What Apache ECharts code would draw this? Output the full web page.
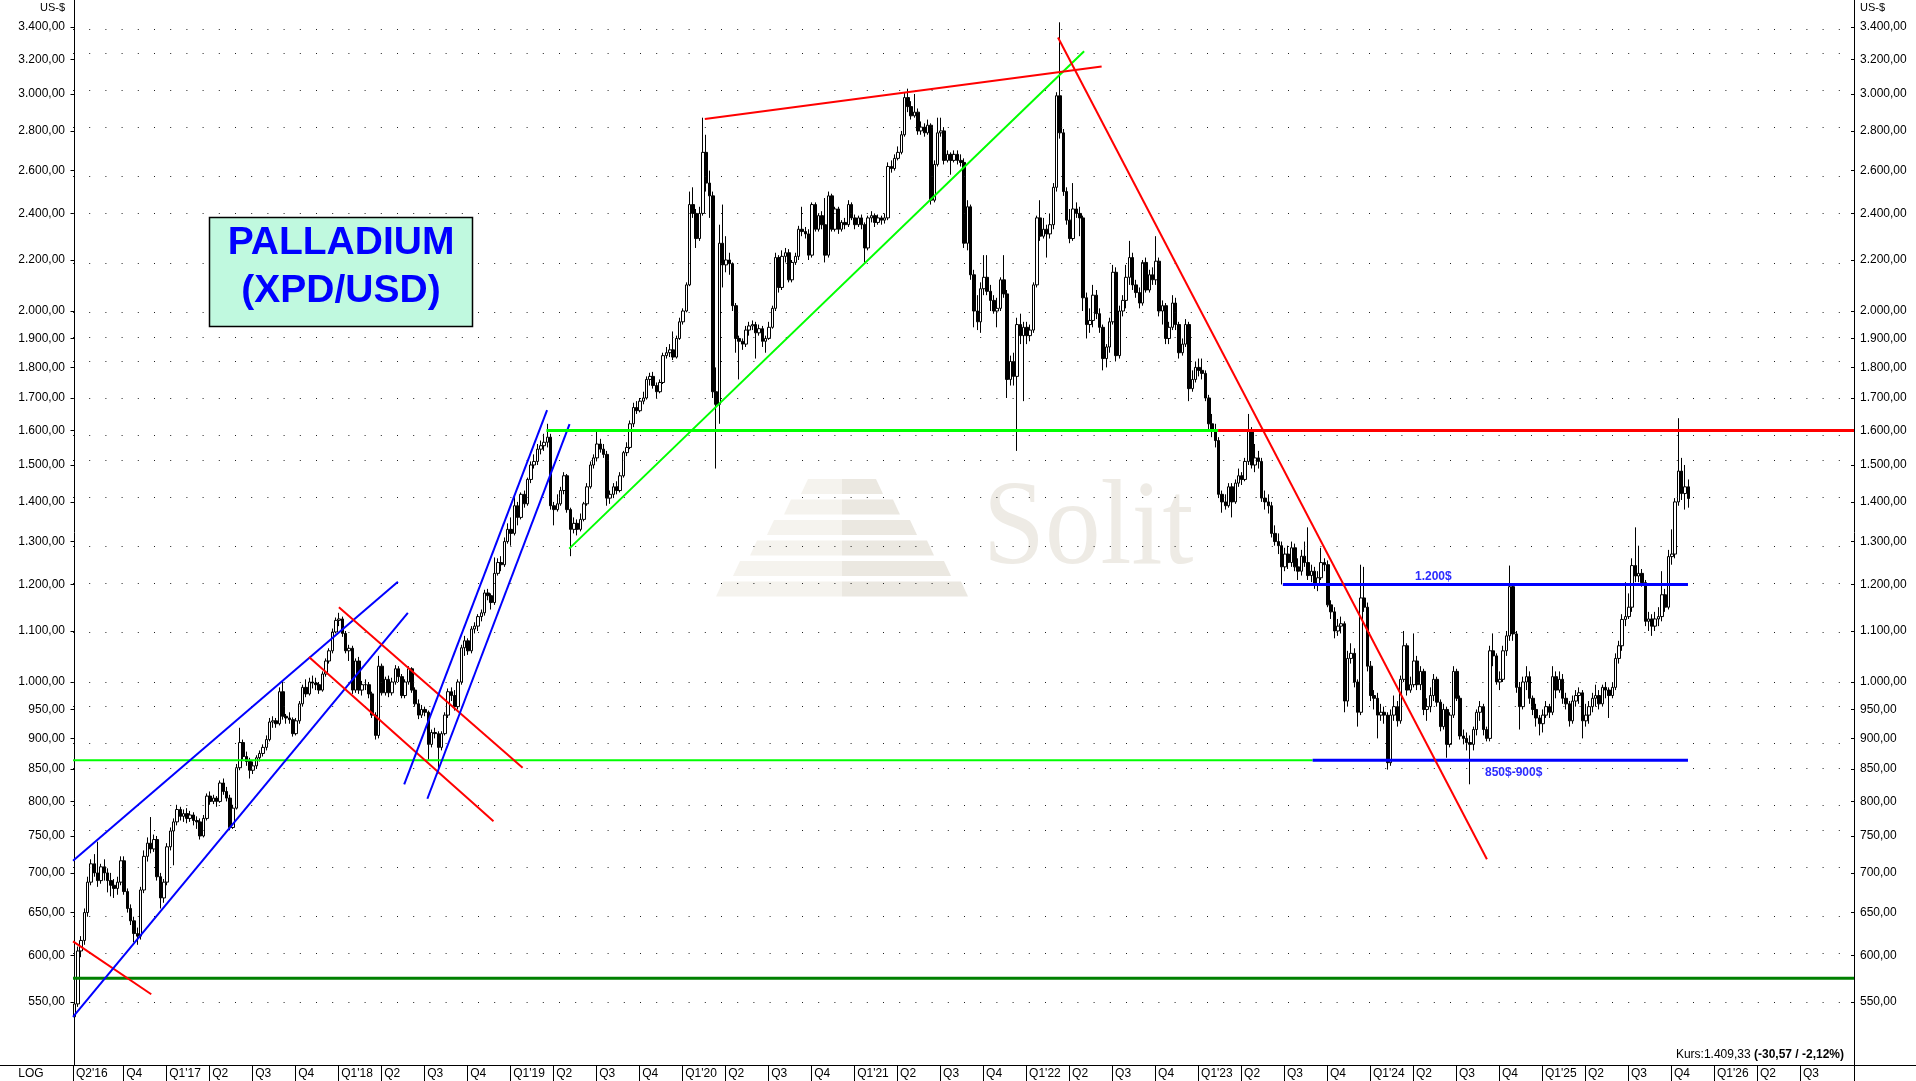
<!DOCTYPE html>
<html><head><meta charset="utf-8">
<script src="https://cdn.jsdelivr.net/npm/echarts@6/dist/echarts.min.js"></script>
<style>html,body{margin:0;padding:0;background:#fff;overflow:hidden}#c{width:1916px;height:1081px}</style>
</head><body><div id="c"></div>
<script>
// ---- weekly candles (index 0 = mid June 2016) ----
const closes=[548,605,617,650,688,712,700,690,708,700,
690,684,680,688,716,676,655,640,625,622,
678,722,740,732,745,695,668,688,735,757,
770,788,778,782,775,780,772,770,750,775,
808,800,805,800,828,815,805,762,790,852,
893,870,862,848,855,868,875,885,898,928,
930,925,982,938,935,932,908,930,960,990,
978,1000,998,995,985,1015,1040,1060,1098,1122,
1125,1095,1060,1065,985,1040,985,995,995,978,
940,905,1030,980,1005,980,1000,1025,1010,975,
1000,1025,985,960,940,950,945,890,910,908,
885,908,940,982,975,955,1000,1066,1080,1060,
1104,1110,1130,1138,1181,1175,1160,1225,1250,1245,
1300,1330,1320,1390,1360,1420,1395,1460,1500,1510,
1545,1555,1565,1580,1390,1380,1395,1430,1470,1380,
1330,1345,1330,1355,1395,1440,1500,1520,1560,1545,
1530,1410,1420,1440,1430,1470,1535,1550,1620,1670,
1660,1690,1700,1760,1770,1740,1720,1750,1840,1850,
1860,1835,1900,1960,2000,2100,2440,2400,2290,2400,
2690,2540,2480,1720,1680,2270,2180,2200,2185,2020,
1900,1890,1880,1930,1945,1950,1920,1935,1890,1900,
1940,2010,2210,2090,2215,2230,2120,2190,2215,2330,
2320,2310,2220,2440,2330,2390,2350,2220,2480,2330,
2420,2330,2360,2350,2440,2380,2350,2380,2350,2250,
2380,2390,2360,2380,2370,2380,2620,2610,2660,2690,
2780,2980,2930,2880,2900,2800,2820,2790,2830,2460,
2630,2790,2800,2650,2680,2650,2680,2650,2640,2270,
2430,2140,2000,1960,2085,2130,2075,2040,2000,2010,
2120,2065,1760,1820,1770,1950,1910,1940,1910,1930,
2100,2380,2300,2330,2310,2350,2520,2990,2790,2500,
2370,2290,2420,2400,2380,2050,1950,1965,2060,1990,
1940,1830,1870,1960,2150,1840,2000,2040,2130,2210,
2100,2070,2030,2190,2080,2140,2120,2195,2000,2020,
1900,1940,2030,1950,1850,1880,1950,1730,1760,1800,
1790,1780,1700,1620,1600,1570,1420,1400,1390,1440,
1400,1450,1470,1460,1510,1600,1500,1520,1510,1410,
1400,1390,1320,1300,1290,1240,1270,1250,1285,1240,
1230,1265,1250,1220,1230,1200,1215,1250,1245,1155,
1140,1100,1110,1115,965,1045,1055,1000,945,1170,
1150,1030,975,970,940,945,940,860,940,955,
930,1005,1070,985,995,1040,995,1020,950,955,
975,1005,963,920,950,890,940,1020,970,904,
900,893,890,915,945,955,915,900,1060,1050,
1000,1005,1060,1090,1195,1094,990,955,1000,1010,
970,950,935,925,940,955,945,1010,985,1005,
970,960,930,965,975,980,930,940,955,970,
975,960,990,985,975,990,1045,1070,1124,1130,
1150,1243,1219,1225,1204,1120,1125,1110,1125,1130,
1177,1150,1264,1270,1400,1483,1422,1440,1409];

const opens=[535,548,605,617,650,688,712,700,690,708,
700,690,684,680,688,716,676,655,640,625,
622,678,722,740,732,745,695,668,688,735,
757,770,788,778,782,775,780,772,770,750,
775,808,800,805,800,828,815,805,762,790,
852,893,870,862,848,855,868,875,885,898,
928,930,925,982,938,935,932,908,930,960,
990,978,1000,998,995,985,1015,1040,1060,1098,
1122,1125,1095,1060,1065,985,1040,985,995,995,
978,940,905,1030,980,1005,980,1000,1025,1010,
975,1000,1025,985,960,940,950,945,890,910,
908,885,908,940,982,975,955,1000,1066,1080,
1060,1104,1110,1130,1138,1181,1175,1160,1225,1250,
1245,1300,1330,1320,1390,1360,1420,1395,1460,1500,
1510,1545,1555,1565,1580,1390,1380,1395,1430,1470,
1380,1330,1345,1330,1355,1395,1440,1500,1520,1560,
1545,1530,1410,1420,1440,1430,1470,1535,1550,1620,
1670,1660,1690,1700,1760,1770,1740,1720,1750,1840,
1850,1860,1835,1900,1960,2000,2100,2440,2400,2290,
2400,2690,2540,2480,1720,1680,2270,2180,2200,2185,
2020,1900,1890,1880,1930,1945,1950,1920,1935,1890,
1900,1940,2010,2210,2090,2215,2230,2120,2190,2215,
2330,2320,2310,2220,2440,2330,2390,2350,2220,2480,
2330,2420,2330,2360,2350,2440,2380,2350,2380,2350,
2250,2380,2390,2360,2380,2370,2380,2620,2610,2660,
2690,2780,2980,2930,2880,2900,2800,2820,2790,2830,
2460,2630,2790,2800,2650,2680,2650,2680,2650,2640,
2270,2430,2140,2000,1960,2085,2130,2075,2040,2000,
2010,2120,2065,1760,1820,1770,1950,1910,1940,1910,
1930,2100,2380,2300,2330,2310,2350,2520,2990,2790,
2500,2370,2290,2420,2400,2380,2050,1950,1965,2060,
1990,1940,1830,1870,1960,2150,1840,2000,2040,2130,
2210,2100,2070,2030,2190,2080,2140,2120,2195,2000,
2020,1900,1940,2030,1950,1850,1880,1950,1730,1760,
1800,1790,1780,1700,1620,1600,1570,1420,1400,1390,
1440,1400,1450,1470,1460,1510,1600,1500,1520,1510,
1410,1400,1390,1320,1300,1290,1240,1270,1250,1285,
1240,1230,1265,1250,1220,1230,1200,1215,1250,1245,
1155,1140,1100,1110,1115,965,1045,1055,1000,945,
1170,1150,1030,975,970,940,945,940,860,940,
955,930,1005,1070,985,995,1040,995,1020,950,
955,975,1005,963,920,950,890,940,1020,970,
904,900,893,890,915,945,955,915,900,1060,
1050,1000,1005,1060,1090,1195,1094,990,955,1000,
1010,970,950,935,925,940,955,945,1010,985,
1005,970,960,930,965,975,980,930,940,955,
970,975,960,990,985,975,990,1045,1070,1124,
1130,1150,1243,1219,1225,1204,1120,1125,1110,1125,
1130,1177,1150,1264,1270,1400,1483,1422,1440];

const lows=[530,545,598,612,645,684,695,682,686,690,
675,670,668,672,684,672,650,635,615,612,
618,674,715,726,728,690,655,662,684,730,
710,765,772,770,768,770,765,760,745,748,
772,795,796,792,798,810,800,758,760,788,
848,865,855,835,842,850,862,870,880,895,
918,918,922,932,925,925,903,905,925,955,
972,975,988,985,978,982,1010,1035,1055,1095,
1110,1088,1055,1040,978,980,978,975,985,970,
935,898,900,975,975,972,975,995,1000,970,
970,995,980,955,933,935,938,865,885,900,
843,880,905,935,965,948,950,995,1050,1052,
1055,1095,1100,1120,1132,1165,1145,1155,1220,1230,
1240,1295,1290,1315,1340,1355,1385,1390,1450,1490,
1500,1530,1540,1550,1380,1340,1375,1390,1420,1372,
1265,1320,1315,1325,1350,1390,1435,1490,1510,1535,
1520,1390,1395,1410,1420,1425,1465,1525,1545,1610,
1650,1655,1680,1695,1740,1730,1700,1715,1745,1830,
1835,1825,1830,1895,1950,1995,2095,2380,2250,2280,
2390,2500,2380,1700,1490,1620,2090,2150,2140,2000,
1850,1760,1860,1870,1910,1930,1830,1910,1870,1850,
1895,1935,2000,2070,2080,2190,2110,2110,2180,2200,
2300,2290,2200,2210,2320,2320,2330,2190,2210,2320,
2320,2310,2320,2330,2340,2370,2330,2340,2330,2190,
2240,2360,2340,2350,2350,2355,2370,2590,2600,2650,
2680,2770,2900,2860,2870,2780,2780,2770,2780,2440,
2450,2620,2770,2630,2640,2580,2640,2630,2620,2250,
2240,2120,1940,1930,1920,2060,2060,2000,1990,1940,
2000,2050,1700,1740,1740,1540,1880,1690,1880,1890,
1920,2090,2280,2290,2210,2290,2330,2500,2760,2480,
2350,2270,2280,2380,2300,2000,1900,1920,1940,1970,
1920,1790,1800,1850,1950,1820,1830,1980,2010,2100,
2080,2050,2010,2020,2070,2070,2100,2100,1980,1950,
1880,1880,1930,1930,1830,1840,1870,1690,1720,1750,
1770,1760,1690,1600,1580,1550,1410,1372,1380,1385,
1360,1395,1440,1445,1455,1500,1490,1480,1490,1400,
1380,1370,1310,1290,1270,1200,1230,1235,1240,1230,
1210,1220,1240,1210,1205,1190,1185,1210,1230,1150,
1125,1085,1090,1095,945,955,1035,990,920,940,
1140,1020,965,950,900,930,925,849,855,930,
920,925,1000,975,980,990,985,985,940,930,
945,965,955,912,915,868,885,935,965,898,
890,880,826,880,905,930,905,895,895,1030,
995,985,1000,1050,1080,1080,980,915,950,985,
960,940,920,905,910,935,935,940,970,980,
960,950,920,925,955,960,900,920,925,945,
955,950,955,970,935,970,985,1035,1060,1110,
1125,1140,1205,1205,1195,1110,1100,1090,1100,1110,
1120,1140,1145,1245,1260,1390,1405,1380,1385];

const highs=[567,610,622,655,695,718,725,742,712,718,
706,700,692,695,722,722,680,660,645,632,
682,730,748,777,752,750,700,692,740,762,
775,795,792,788,790,786,784,778,775,780,
812,815,810,808,832,835,822,810,795,858,
918,898,878,868,862,872,880,890,905,935,
938,935,990,1000,942,945,936,935,965,995,
1005,1008,1012,1008,1000,1020,1045,1065,1105,1128,
1138,1130,1100,1072,1070,1045,1048,1002,1005,1000,
982,945,1050,1035,1010,1012,1008,1032,1030,1015,
1005,1030,1028,990,968,958,955,948,915,918,
912,912,945,988,990,985,1005,1072,1090,1085,
1110,1118,1135,1145,1188,1190,1180,1262,1260,1265,
1310,1345,1360,1420,1400,1425,1430,1465,1510,1530,
1560,1570,1590,1620,1590,1400,1420,1440,1480,1475,
1385,1360,1355,1370,1400,1450,1510,1530,1600,1575,
1560,1540,1430,1450,1455,1480,1540,1565,1630,1685,
1690,1700,1720,1770,1782,1785,1750,1760,1850,1870,
1880,1925,1910,1975,2010,2110,2500,2520,2420,2430,
2870,2780,2600,2500,1800,2350,2440,2300,2230,2190,
2030,1910,1900,1945,1960,1965,1960,1950,1945,1910,
1960,2020,2230,2220,2240,2250,2245,2200,2230,2345,
2430,2340,2330,2450,2450,2400,2410,2470,2500,2490,
2430,2430,2370,2380,2460,2450,2395,2390,2395,2360,
2390,2410,2400,2395,2390,2400,2640,2650,2680,2720,
2800,3010,3030,2960,3000,2920,2850,2840,2860,2840,
2650,2870,2870,2820,2700,2690,2700,2700,2680,2660,
2460,2440,2160,2060,2110,2220,2220,2100,2060,2050,
2130,2220,2080,1840,1850,1975,1990,1960,1960,1950,
2110,2390,2460,2380,2350,2400,2540,3010,3430,2810,
2520,2420,2540,2450,2430,2390,2070,2010,2100,2080,
2010,1950,1880,1975,2180,2170,2020,2060,2180,2280,
2230,2120,2090,2200,2210,2160,2170,2300,2210,2040,
2030,1960,2060,2050,1960,1900,1970,1960,1790,1820,
1830,1830,1790,1710,1650,1620,1580,1430,1420,1450,
1450,1460,1490,1480,1520,1650,1610,1560,1540,1520,
1430,1420,1400,1340,1320,1300,1285,1290,1300,1295,
1260,1280,1300,1335,1245,1240,1230,1285,1260,1255,
1165,1150,1125,1130,1120,1060,1075,1065,1005,1245,
1240,1160,1040,985,980,960,955,945,950,975,
965,1012,1100,1075,1010,1095,1050,1030,1025,970,
990,1015,1010,968,960,955,945,1030,1025,975,
915,910,905,920,950,965,960,920,1070,1095,
1055,1020,1070,1100,1243,1200,1100,1000,1010,1030,
1020,975,960,940,950,965,960,1030,1020,1020,
1015,980,965,975,985,990,985,960,965,980,
995,985,995,1000,990,1000,1055,1080,1135,1205,
1180,1260,1335,1290,1235,1210,1140,1135,1140,1150,
1230,1190,1280,1330,1410,1637,1520,1500,1460];

// ---- axis ticks / labels ----
const priceTicks=[550,600,650,700,750,800,850,900,950,1000,1100,1200,1300,1400,1500,1600,1700,1800,1900,2000,2200,2400,2600,2800,3000,3200,3400];
const quarterLabels=["Q2'16","Q4","Q1'17","Q2","Q3","Q4","Q1'18","Q2","Q3","Q4","Q1'19","Q2","Q3","Q4","Q1'20","Q2","Q3","Q4","Q1'21","Q2","Q3","Q4","Q1'22","Q2","Q3","Q4","Q1'23","Q2","Q3","Q4","Q1'24","Q2","Q3","Q4","Q1'25","Q2","Q3","Q4","Q1'26","Q2","Q3"];

// ---- drawn trend lines: [week index, price] ----
const redShortLow=[[-0.45,616],[23.2,558]];
const darkGreenSupport=[[-0.45,575],[538.1,575]];
const limeSupportLow=[[-0.45,864],[374.4,864]];
const blueSupport850=[[374.4,864],[487.9,864]];
const blueResist1200=[[365.4,1200],[487.9,1200]];
const blueChannelUp=[[-0.45,716],[97.8,1206]];
const blueChannelLow=[[-0.45,535],[100.8,1138]];
const redChannelUp=[[79.95,1150],[135.5,852]];
const redChannelLow=[[70.9,1048],[126.7,771]];
const blueSteepA=[[99.7,826],[142.9,1662]];
const blueSteepB=[[106.7,804],[149.7,1619]];
const lime1600=[[142.7,1600],[345.8,1600]];
const red1600=[[345.8,1600],[538.1,1600]];
const limeRising=[[149.6,1283],[305.3,3249]];
const redTop=[[190.6,2863],[310.6,3158]];
const redDown=[[297.4,3334],[427.1,718]];

const lg=v=>Math.log10(v);
const X_MIN=-0.454, X_MAX=538.1;
const Y_MIN=lg(488.9), Y_MAX=lg(3575.9);
const FONT='"Liberation Sans", Arial, sans-serif';

function de(v){const n=Math.round(v);return n>=1000?Math.floor(n/1000)+'.'+String(n%1000).padStart(3,'0')+',00':n+',00';}
const tickLogs=priceTicks.map(lg);
const qPos=quarterLabels.map((_,k)=>k===0?-0.45:1.75+13*k);
const qMap={};qPos.forEach((p,k)=>{qMap[p.toFixed(2)]=quarterLabels[k];});
const qTicks=qPos.slice(1);

const candleData=closes.map((c,i)=>[i,lg(opens[i]),lg(c),lg(lows[i]),lg(highs[i])]);

function tl(pts,color,width){
  return {type:'line',data:pts.map(p=>[p[0],lg(p[1])]),symbol:'none',showSymbol:false,silent:true,z:6,
    lineStyle:{color:color,width:width},animation:false};
}

const yAxisBase={type:'value',min:Y_MIN,max:Y_MAX,splitLine:{show:false},
  axisLine:{show:true,lineStyle:{color:'#000',width:1}},
  axisLabel:{customValues:tickLogs,formatter:v=>de(Math.pow(10,v)),fontSize:12,color:'#000',fontFamily:FONT}};

// watermark pyramid
const wm=[];
const cx=842;
for(let k=0;k<6;k++){
  const yT=479+20.5*k,yB=yT+15,hT=34+17*k,hB=hT+7;
  wm.push({type:'polygon',z:0,silent:true,shape:{points:[[cx-hT,yT],[cx,yT],[cx,yB],[cx-hB,yB]]},style:{fill:'#f5f3ee'}});
  wm.push({type:'polygon',z:0,silent:true,shape:{points:[[cx,yT],[cx+hT,yT],[cx+hB,yB],[cx,yB]]},style:{fill:'#ebe8e1'}});
}

const chart=echarts.init(document.getElementById('c'),null,{renderer:'canvas'});
chart.setOption({
  animation:false,
  backgroundColor:'#fff',
  grid:{left:73,right:62,top:0,bottom:16,containLabel:false,outerBoundsMode:'none'},
  xAxis:{type:'value',min:X_MIN,max:X_MAX,
    axisLine:{show:true,lineStyle:{color:'#000',width:1}},
    axisTick:{show:true,customValues:qTicks,length:16,inside:false,lineStyle:{color:'#000',width:1}},
    axisLabel:{customValues:qPos,formatter:v=>qMap[(+v).toFixed(2)]||'',align:'left',padding:[0,0,0,3],margin:3,
      verticalAlign:'top',fontSize:12,color:'#000',fontFamily:FONT,showMinLabel:true,showMaxLabel:true},
    splitLine:{show:false}},
  yAxis:[
    Object.assign({},yAxisBase,{position:'left',
      axisTick:{show:true,customValues:tickLogs,length:4,inside:false,lineStyle:{color:'#000'}},
      axisLabel:Object.assign({},yAxisBase.axisLabel,{margin:8})}),
    Object.assign({},yAxisBase,{position:'right',
      axisTick:{show:true,customValues:tickLogs,length:3,inside:true,lineStyle:{color:'#000'}},
      axisLabel:Object.assign({},yAxisBase.axisLabel,{margin:6})})
  ],
  series:[
    {type:'line',data:[[X_MIN,Y_MIN]],symbol:'none',showSymbol:false,lineStyle:{opacity:0},silent:true,z:1,
      markLine:{silent:true,symbol:['none','none'],label:{show:false},animation:false,
        lineStyle:{color:'#222',width:1,type:[1,15.2]},emphasis:{disabled:true},
        data:tickLogs.map(v=>({yAxis:v}))}},
    {type:'candlestick',data:candleData,encode:{x:0,y:[1,2,3,4]},barWidth:3,z:3,silent:true,
      itemStyle:{color:'#fff',color0:'#000',borderColor:'#000',borderColor0:'#000',borderColorDoji:'#000',borderWidth:1}},
    tl(darkGreenSupport,'#008000',3),
    tl(limeSupportLow,'#00ff00',2),
    tl(blueSupport850,'#0000ff',3),
    tl(blueResist1200,'#0000ff',3),
    tl(redShortLow,'#ff0000',2),
    tl(blueChannelUp,'#0000ff',2),
    tl(blueChannelLow,'#0000ff',2),
    tl(redChannelUp,'#ff0000',2),
    tl(redChannelLow,'#ff0000',2),
    tl(blueSteepA,'#0000ff',2),
    tl(blueSteepB,'#0000ff',2),
    tl(lime1600,'#00ff00',3),
    tl(red1600,'#ff0000',3),
    tl(limeRising,'#00ff00',2),
    tl(redTop,'#ff0000',2),
    tl(redDown,'#ff0000',2)
  ],
  graphic:{elements:[].concat(wm,[
    {type:'text',z:0,silent:true,x:983,y:531,scaleX:0.92,style:{text:'Solit',fontFamily:'"Liberation Serif", "DejaVu Serif", serif',fontSize:121,fill:'#eeebe5',align:'left',textAlign:'left',verticalAlign:'middle',textVerticalAlign:'middle'}},
    {type:'line',z:50,silent:true,shape:{x1:0,y1:1065.5,x2:1916,y2:1065.5},style:{stroke:'#000',lineWidth:1}},
    {type:'line',z:50,silent:true,shape:{x1:73.5,y1:1065,x2:73.5,y2:1081},style:{stroke:'#000',lineWidth:1}},
    {type:'line',z:50,silent:true,shape:{x1:1854.5,y1:1065,x2:1854.5,y2:1081},style:{stroke:'#000',lineWidth:1}},
    {type:'rect',z:100,silent:true,shape:{x:209.5,y:217.5,width:263,height:109},style:{fill:'#c0f9df',stroke:'#000',lineWidth:1.5}},
    {type:'text',z:101,silent:true,x:341,y:243,style:{text:'PALLADIUM',fontFamily:FONT,fontWeight:'bold',fontSize:39,fill:'#0000ff',align:'center',textAlign:'center',verticalAlign:'middle',textVerticalAlign:'middle'}},
    {type:'text',z:101,silent:true,x:341,y:291,style:{text:'(XPD/USD)',fontFamily:FONT,fontWeight:'bold',fontSize:39,fill:'#0000ff',align:'center',textAlign:'center',verticalAlign:'middle',textVerticalAlign:'middle'}},
    {type:'text',z:101,silent:true,x:1415,y:577,style:{text:'1.200$',fontFamily:FONT,fontWeight:'bold',fontSize:12,fill:'#2b2bff',align:'left',textAlign:'left',verticalAlign:'middle',textVerticalAlign:'middle'}},
    {type:'text',z:101,silent:true,x:1485,y:773,style:{text:'850$-900$',fontFamily:FONT,fontWeight:'bold',fontSize:12,fill:'#2b2bff',align:'left',textAlign:'left',verticalAlign:'middle',textVerticalAlign:'middle'}},
    {type:'text',z:101,silent:true,x:65,y:8,style:{text:'US-$',fontFamily:FONT,fontSize:11,fill:'#000',align:'right',textAlign:'right',verticalAlign:'middle',textVerticalAlign:'middle'}},
    {type:'text',z:101,silent:true,x:1860,y:8,style:{text:'US-$',fontFamily:FONT,fontSize:11,fill:'#000',align:'left',textAlign:'left',verticalAlign:'middle',textVerticalAlign:'middle'}},
    {type:'text',z:101,silent:true,x:31,y:1074,style:{text:'LOG',fontFamily:FONT,fontSize:12,fill:'#000',align:'center',textAlign:'center',verticalAlign:'middle',textVerticalAlign:'middle'}},
    {type:'text',z:101,silent:true,x:1844,y:1055,style:{text:'Kurs:1.409,33 {b|(-30,57 / -2,12%)}',fontFamily:FONT,fontSize:12,fill:'#000',align:'right',textAlign:'right',verticalAlign:'middle',textVerticalAlign:'middle',rich:{b:{fontWeight:'bold',fontSize:12,fontFamily:FONT,fill:'#000'}}}}
  ])}
});
</script></body></html>
